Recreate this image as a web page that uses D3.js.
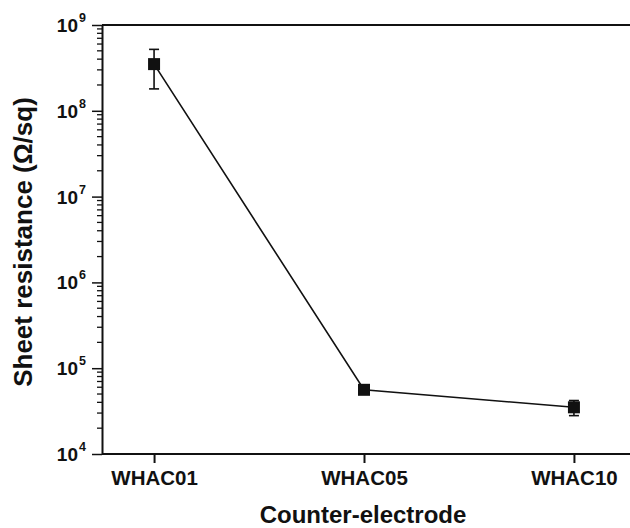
<!DOCTYPE html>
<html>
<head>
<meta charset="utf-8">
<script src="https://cdn.jsdelivr.net/npm/d3@7"></script>
<style>
  body { margin: 0; background: #fff; }
  text { font-family: "Liberation Sans", Arial, sans-serif; font-weight: bold; fill: #111; }
</style>
</head>
<body>
<svg id="chart" width="630" height="528"></svg>
<script>
// data
const electrodes = ["WHAC01", "WHAC05", "WHAC10"];
const resistance = [3.5e8, 5.6e4, 3.5e4];
const resistanceErr = [1.7e8, 0.4e4, 0.7e4];
const yExponents = [4, 5, 6, 7, 8, 9];

const svg = d3.select("#chart"),
  width = +svg.attr("width"),
  height = +svg.attr("height");

const plotLeft = 102, plotTop = 25, plotBottom = 454;

const x = d3.scalePoint().domain(electrodes).range([plotLeft, 626]).padding(0.248);
const y = d3.scaleLog().domain([1e4, 1e9]).range([plotBottom, plotTop]);

// frame: top and bottom lines run past the right edge
svg.append("line")
  .attr("x1", plotLeft).attr("x2", width)
  .attr("y1", plotTop).attr("y2", plotTop)
  .attr("stroke", "#111").attr("stroke-width", 2);

// x axis
const xAxis = svg.append("g")
  .attr("transform", `translate(0,${plotBottom})`)
  .call(d3.axisBottom(x).tickSize(9).tickSizeOuter(0));
xAxis.select(".domain").attr("stroke", "#111").attr("stroke-width", 2)
  .attr("d", `M${plotLeft},0H${width}`);
xAxis.selectAll(".tick line").attr("stroke", "#111").attr("stroke-width", 2);
xAxis.selectAll(".tick text")
  .attr("y", 31).attr("dy", 0)
  .style("font-size", "20.5px")
  .style("font-family", "Liberation Sans, Arial, sans-serif")
  .style("font-weight", "bold")
  .attr("fill", "#111");

// y axis, major ticks
const majors = yExponents.map((e) => Math.pow(10, e));
const yAxis = svg.append("g")
  .attr("transform", `translate(${plotLeft},0)`)
  .call(d3.axisLeft(y).tickValues(majors).tickSize(10).tickSizeOuter(0).tickFormat(""));
yAxis.select(".domain").attr("stroke", "#111").attr("stroke-width", 2);
yAxis.selectAll(".tick line").attr("stroke", "#111").attr("stroke-width", 1.5);

// minor ticks
const minors = [];
yExponents.slice(0, -1).forEach((e) => {
  for (let k = 2; k <= 9; k++) minors.push(k * Math.pow(10, e));
});
svg.append("g")
  .selectAll("line")
  .data(minors)
  .join("line")
  .attr("x1", plotLeft - 5).attr("x2", plotLeft)
  .attr("y1", (d) => y(d)).attr("y2", (d) => y(d))
  .attr("stroke", "#111").attr("stroke-width", 1.3);

// y tick labels as 10^n
svg.append("g")
  .selectAll("text")
  .data(yExponents)
  .join("text")
  .attr("x", 78)
  .attr("y", (d) => y(Math.pow(10, d)) + 7)
  .attr("text-anchor", "end")
  .style("font-size", "19px")
  .text("10");
svg.append("g")
  .selectAll("text")
  .data(yExponents)
  .join("text")
  .attr("x", 79)
  .attr("y", (d) => y(Math.pow(10, d)) - 3)
  .style("font-size", "12.5px")
  .text((d) => d);

// axis titles
svg.append("text")
  .attr("x", (plotLeft + 626) / 2 - 1)
  .attr("y", 523)
  .attr("text-anchor", "middle")
  .style("font-size", "24px")
  .text("Counter-electrode");

svg.append("text")
  .attr("transform", `translate(32,242) rotate(-90)`)
  .attr("text-anchor", "middle")
  .style("font-size", "26px")
  .text("Sheet resistance (\u03A9/sq)");

// connecting line
const line = d3.line()
  .x((d, i) => x(electrodes[i]))
  .y((d) => y(d));
svg.append("path")
  .datum(resistance)
  .attr("d", line)
  .attr("fill", "none")
  .attr("stroke", "#111")
  .attr("stroke-width", 1.6);

// error bars
const err = svg.append("g")
  .selectAll("g")
  .data(resistance)
  .join("g");
err.append("line")
  .attr("x1", (d, i) => x(electrodes[i])).attr("x2", (d, i) => x(electrodes[i]))
  .attr("y1", (d, i) => y(d + resistanceErr[i]))
  .attr("y2", (d, i) => y(d - resistanceErr[i]))
  .attr("stroke", "#111").attr("stroke-width", 1.6);
[1, -1].forEach((s) => {
  err.append("line")
    .attr("x1", (d, i) => x(electrodes[i]) - 5).attr("x2", (d, i) => x(electrodes[i]) + 5)
    .attr("y1", (d, i) => y(d + s * resistanceErr[i]))
    .attr("y2", (d, i) => y(d + s * resistanceErr[i]))
    .attr("stroke", "#111").attr("stroke-width", 1.6);
});

// markers
svg.append("g")
  .selectAll("rect")
  .data(resistance)
  .join("rect")
  .attr("x", (d, i) => x(electrodes[i]) - 6)
  .attr("y", (d) => y(d) - 6)
  .attr("width", 12)
  .attr("height", 12)
  .attr("fill", "#111");
</script>
</body>
</html>
